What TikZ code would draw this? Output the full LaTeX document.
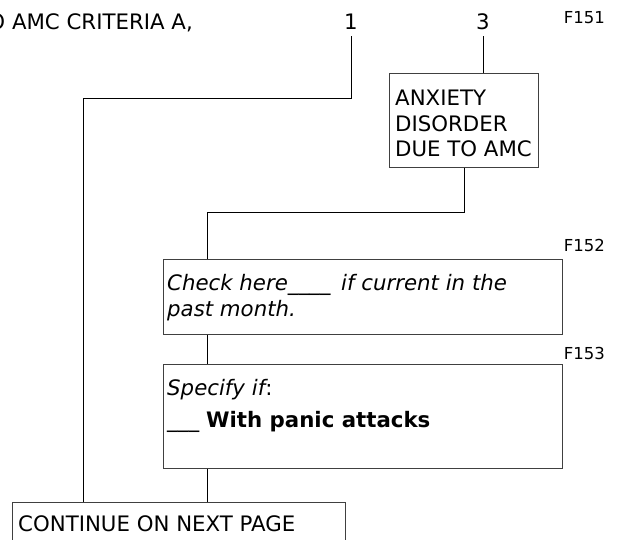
\documentclass[tikz,border=0pt]{standalone}
\usepackage{fontspec}
\setmainfont{DejaVu Sans}
\begin{document}
\begin{tikzpicture}[x=1pt,y=-1pt,
  box/.style={draw=black!75,line width=0.8pt,rectangle,inner sep=0pt,anchor=north west},
  conn/.style={draw=black,line width=0.9pt},
  txt/.style={inner sep=0pt,anchor=base west,font=\fontsize{21.3}{25.7}\selectfont},
  flabel/.style={inner sep=0pt,anchor=base east,font=\fontsize{16.5}{19}\selectfont},
  num/.style={inner sep=0pt,anchor=base,font=\fontsize{21.3}{25.7}\selectfont}]
\useasboundingbox (0,0) rectangle (623,540);
\clip (0,0) rectangle (623,540);
% header texts
\node[inner sep=0pt,anchor=base east,font=\fontsize{21.3}{25.7}\selectfont] (hdr) at (193,30) {TO AMC CRITERIA A,};
\node[num] (n1) at (351,30) {1};
\node[num] (n3) at (483,30) {3};
\node[flabel] (f151) at (605,24) {F151};
\node[flabel] (f152) at (605,251) {F152};
\node[flabel] (f153) at (605,359) {F153};
% boxes
\node[box,minimum width=149pt,minimum height=94pt] (anx) at (389,73) {};
\node[box,minimum width=399pt,minimum height=75pt] (chk) at (163,259) {};
\node[box,minimum width=399pt,minimum height=104pt] (spc) at (163,364) {};
\node[box,minimum width=333pt,minimum height=60pt] (cont) at (12,502) {};
% box texts
\node[txt] (anx1) at (395,106) {ANXIETY};
\node[txt] (anx2) at (395,132) {DISORDER};
\node[txt] (anx3) at (395,157) {DUE TO AMC};
\node[txt] (chk1) at (167,290) {\itshape Check here\_\_\_\_\hspace{0.5em}if current in the};
\node[txt] (chk2) at (167,316) {\itshape past month.};
\node[txt] (spc1) at (167,395) {{\itshape Specify if}:};
\node[txt] (spc2) at (167,427) {\_\_\_\ \textbf{With panic attacks}};
\node[txt] (cont1) at (18,531) {CONTINUE ON NEXT PAGE};
% connectors
\coordinate (j1) at (83,98);
\coordinate (j2) at (464,212);
\coordinate (j3) at (207,212);
\draw[conn] ([yshift=-6pt]n1.south) |- (j1) -- (j1 |- cont.north);
\draw[conn] ([yshift=-6pt]n3.south) -- (n3.south |- anx.north);
\draw[conn] (j2 |- anx.south) -- (j2) -- (j3) -- (j3 |- chk.north);
\draw[conn] (j3 |- chk.south) -- (j3 |- spc.north);
\draw[conn] (j3 |- spc.south) -- (j3 |- cont.north);
\end{tikzpicture}
\end{document}
